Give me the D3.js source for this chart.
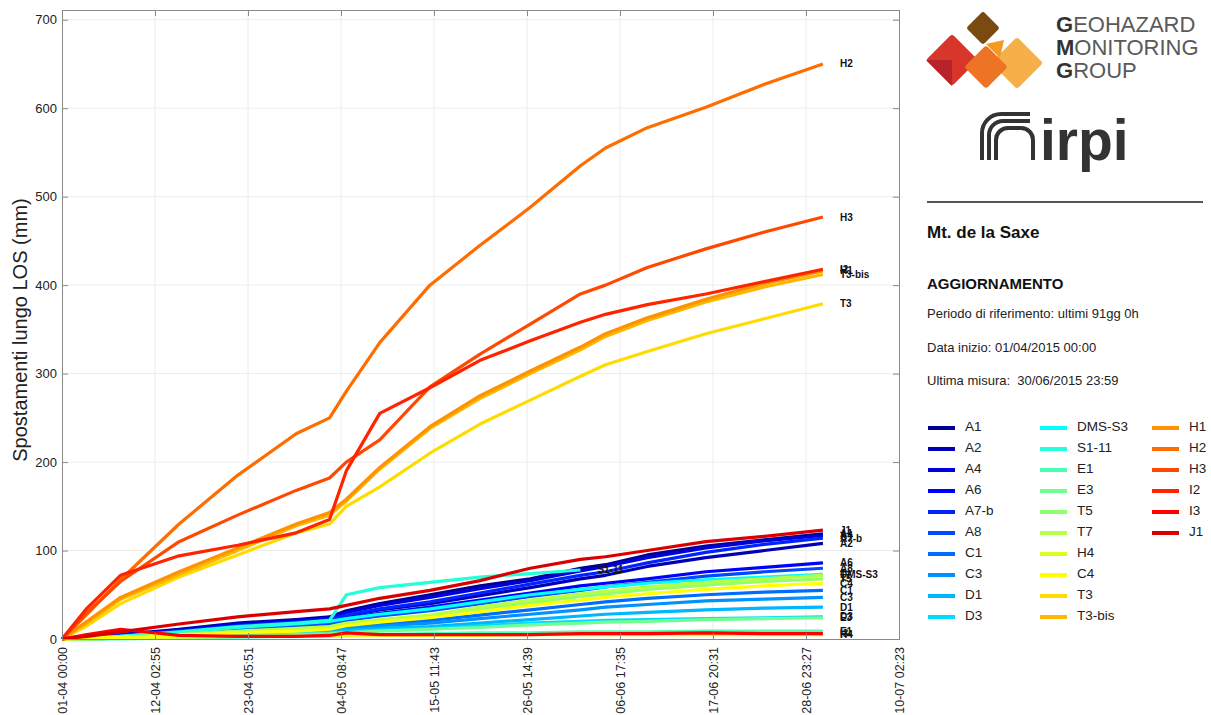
<!DOCTYPE html>
<html>
<head>
<meta charset="utf-8">
<script src="https://cdn.jsdelivr.net/npm/d3@7/dist/d3.min.js"></script>
<style>
  body { margin: 0; background: #fff; }
  text { font-family: Arial, "Liberation Sans", sans-serif; }
</style>
</head>
<body>
<div id="chart"></div>
<script>
// Mt. de la Saxe - spostamenti lungo LOS

// sample days (from 01-04 00:00)
const days = [0, 3, 7, 14, 21, 28, 32, 34, 38, 44, 50, 56, 62, 65, 70, 77, 84, 91];

// series values (mm)
const A1 = [0, 2, 5, 11, 18, 22, 25, 32, 40, 50, 60, 68, 80, 84, 95, 105, 112, 119];
const A2 = [0, 2, 4, 9, 15, 19, 22, 26, 33, 40, 49, 58, 68, 72, 82, 92, 100, 108];
const A4 = [0, 2, 5, 10, 17, 21, 24, 30, 38, 47, 57, 66, 77, 82, 92, 103, 111, 117];
const A6 = [0, 1, 3, 7, 12, 16, 19, 23, 29, 36, 44, 52, 60, 63, 68, 76, 81, 86];
const A7b = [0, 1, 4, 9, 15, 19, 22, 27, 34, 42, 52, 62, 72, 76, 86, 98, 107, 114];
const A8 = [0, 1, 3, 6, 11, 14, 17, 21, 26, 32, 40, 48, 55, 59, 64, 71, 76, 80];
const C1 = [0, 1, 2, 4, 7, 10, 12, 14, 17, 21, 27, 33, 39, 42, 46, 50, 53, 55];
const C3 = [0, 0, 1, 3, 5, 8, 10, 12, 15, 18, 23, 28, 33, 36, 39, 43, 45, 47];
const D1 = [0, 0, 1, 3, 5, 7, 8, 10, 12, 14, 18, 22, 26, 28, 30, 33, 35, 36];
const D3 = [0, 0, 1, 2, 4, 6, 7, 8, 10, 12, 15, 18, 20, 21, 22, 23, 24, 25];
const DMS_S3 = [0, 1, 3, 7, 13, 17, 20, 23, 28, 34, 42, 50, 56, 59, 63, 67, 70, 73];
const S1_11 = [0, 1, 3, 8, 14, 18, 21, 50, 58, 64, 70, 74, 78, null, null, null, null, null];
const E1 = [0, 0, 0, 1, 2, 3, 3, 4, 5, 6, 7, 7, 8, 8, 8, 9, 9, 9];
const E3 = [0, 0, 1, 2, 3, 5, 6, 7, 9, 11, 13, 16, 18, 19, 20, 22, 23, 24];
const T5 = [0, 1, 2, 4, 8, 11, 13, 16, 20, 25, 33, 41, 48, 51, 56, 61, 65, 68];
const T7 = [0, 1, 2, 5, 9, 12, 14, 18, 22, 27, 36, 44, 51, 54, 59, 64, 68, 72];
const H4 = [0, 0, 1, 2, 3, 3, 3, 4, 4, 4, 4, 5, 5, 5, 5, 5, 5, 5];
const C4 = [0, 1, 2, 4, 7, 9, 11, 15, 19, 24, 31, 38, 44, 47, 51, 56, 60, 63];
const T3 = [0, 15, 40, 70, 95, 120, 130, 150, 172, 210, 243, 270, 297, 310, 325, 345, 362, 379];
const T3bis = [0, 18, 45, 73, 100, 128, 140, 156, 192, 238, 272, 300, 327, 342, 360, 381, 398, 412];
const H1 = [0, 20, 47, 76, 103, 130, 143, 158, 194, 240, 275, 303, 330, 345, 363, 384, 402, 416];
const H2 = [0, 28, 67, 130, 185, 232, 250, 280, 335, 400, 445, 488, 535, 555, 578, 601, 627, 650];
const H3 = [0, 30, 65, 110, 140, 168, 182, 200, 225, 285, 322, 356, 390, 400, 420, 441, 460, 477];
const I2 = [0, 35, 72, 94, 106, 120, 135, 190, 255, 284, 315, 337, 358, 367, 378, 390, 404, 418];
const I3 = [0, 5, 11, 4, 3, 3, 4, 7, 5, 5, 5, 5, 6, 6, 6, 7, 6, 6];
const J1 = [0, 3, 8, 17, 25, 31, 34, 38, 46, 55, 66, 80, 90, 93, 100, 110, 116, 123];

const names = ["A1", "A2", "A4", "A6", "A7-b", "A8", "C1", "C3", "D1", "D3",
  "DMS-S3", "S1-11", "E1", "E3", "T5", "T7", "H4", "C4", "T3", "T3-bis",
  "H1", "H2", "H3", "I2", "I3", "J1"];
const values = [A1, A2, A4, A6, A7b, A8, C1, C3, D1, D3,
  DMS_S3, S1_11, E1, E3, T5, T7, H4, C4, T3, T3bis,
  H1, H2, H3, I2, I3, J1];

// jet(26) colormap
const jetColors = ["#000092", "#0000b6", "#0000db", "#0000ff", "#0024ff", "#0049ff", "#006dff", "#0092ff",
  "#00b6ff", "#00dbff", "#00ffff", "#24ffdb", "#49ffb6", "#6dff92", "#92ff6d", "#b6ff49",
  "#dbff24", "#ffff00", "#ffdb00", "#ffb600", "#ff9200", "#ff6d00", "#ff4900", "#ff2400",
  "#ff0000", "#db0000"];

// x ticks every 11d 02:55:52
const tickLabels = ["01-04 00:00", "12-04 02:55", "23-04 05:51", "04-05 08:47", "15-05 11:43",
  "26-05 14:39", "06-06 17:35", "17-06 20:31", "28-06 23:27", "10-07 02:23"];
const tickStep = 11 + (2 * 3600 + 55 * 60 + 52) / 86400;
const yTicks = [0, 100, 200, 300, 400, 500, 600, 700];

const infoLines = ["Periodo di riferimento: ultimi 91gg 0h", "Data inizio: 01/04/2015 00:00",
  "Ultima misura:  30/06/2015 23:59"];

const W = 1211, H = 715;
const margin = { top: 10, right: 312, bottom: 76, left: 62 },
  width = W - margin.left - margin.right,
  height = H - margin.top - margin.bottom;

const root = d3.select("#chart").append("svg")
  .attr("width", W).attr("height", H)
  .style("display", "block");
root.append("rect").attr("width", W).attr("height", H).attr("fill", "#fff");

const svg = root.append("g")
  .attr("transform", "translate(" + margin.left + "," + margin.top + ")");

const xScale = d3.scaleLinear().domain([0, tickStep * 9]).range([0, width]);
const yScale = d3.scaleLinear().domain([0, 711]).range([height, 0]);
const xTicks = tickLabels.map((d, i) => i * tickStep);

// grid
svg.append("g")
  .selectAll("line.vg")
  .data(xTicks.slice(1, -1))
  .enter().append("line")
  .attr("x1", d => xScale(d)).attr("x2", d => xScale(d))
  .attr("y1", 0).attr("y2", height)
  .attr("stroke", "#ececec");
svg.append("g")
  .selectAll("line.hg")
  .data(yTicks.slice(1))
  .enter().append("line")
  .attr("x1", 0).attr("x2", width)
  .attr("y1", d => yScale(d)).attr("y2", d => yScale(d))
  .attr("stroke", "#ececec");

// lines
const line = d3.line()
  .defined(d => d[1] != null)
  .x(d => xScale(d[0]))
  .y(d => yScale(d[1]));

const series = names.map((n, i) => ({
  name: n,
  color: jetColors[i],
  pts: days.map((d, j) => [d, values[i][j]])
}));

svg.append("g")
  .selectAll("path")
  .data(series)
  .enter().append("path")
  .attr("d", d => line(d.pts))
  .attr("fill", "none")
  .attr("stroke", d => d.color)
  .attr("stroke-width", 3.2)
  .attr("stroke-linejoin", "round");

// end labels
svg.append("g")
  .selectAll("text")
  .data(series)
  .enter().append("text")
  .attr("x", d => {
    const last = d.pts.filter(p => p[1] != null).pop();
    return xScale(last[0]) + 17;
  })
  .attr("y", d => yScale(d.pts.filter(p => p[1] != null).pop()[1]))
  .attr("dy", "0.35em")
  .attr("font-size", "10px")
  .attr("font-weight", "bold")
  .attr("fill", "#111")
  .text(d => d.name);

// axes (ticks inward, like matlab)
const axisCol = "#8a8a8a";
const gx = svg.append("g")
  .attr("transform", "translate(0," + height + ")")
  .call(d3.axisBottom(xScale).tickValues(xTicks).tickSize(-6).tickPadding(6)
    .tickFormat((d, i) => tickLabels[i]));
gx.selectAll("text")
  .attr("transform", "rotate(-90)")
  .attr("x", -8).attr("y", 0).attr("dy", "0.35em")
  .style("text-anchor", "end")
  .attr("font-size", "12.5px").attr("fill", "#222");

const gy = svg.append("g")
  .call(d3.axisLeft(yScale).tickValues(yTicks).tickSize(-6).tickPadding(5));
gy.selectAll("text").attr("font-size", "13px").attr("fill", "#222");

svg.append("g")
  .call(d3.axisTop(xScale).tickValues(xTicks).tickSize(-6).tickFormat(""));
svg.append("g")
  .attr("transform", "translate(" + width + ",0)")
  .call(d3.axisRight(yScale).tickValues(yTicks).tickSize(-6).tickFormat(""));

svg.selectAll(".domain, .tick line").attr("stroke", axisCol);

svg.append("text")
  .attr("transform", "rotate(-90)")
  .attr("x", -320)
  .attr("y", -35)
  .attr("text-anchor", "middle")
  .attr("font-size", "20px")
  .attr("fill", "#222")
  .text("Spostamenti lungo LOS (mm)");

// ---- right panel ----
const panel = root.append("g");

// geohazard logo
const diamond = (cx, cy, s, col) => panel.append("rect")
  .attr("x", -s / 2).attr("y", -s / 2).attr("width", s).attr("height", s)
  .attr("rx", 3)
  .attr("transform", "translate(" + cx + "," + cy + ") rotate(45)")
  .attr("fill", col);
diamond(983, 28, 24, "#7b4a12");
diamond(952, 60, 37, "#d8352b");
diamond(1017, 63, 37, "#f6b04a");
diamond(986, 67, 31, "#ec7424");
panel.append("path")
  .attr("d", "M926,60 L952,86 L952,60 Z")
  .attr("fill", "#b8222a");
panel.append("path")
  .attr("d", "M986,44 L1000,58 L1004,40 Z")
  .attr("fill", "#f39a22");

const logoText = [["G", "EOHAZARD"], ["M", "ONITORING"], ["G", "ROUP"]];
logoText.forEach((t, i) => {
  const tx = panel.append("text")
    .attr("x", 1056).attr("y", 32 + i * 23)
    .attr("font-size", "22px")
    .attr("fill", "#5a5a5a");
  tx.append("tspan").attr("font-weight", "bold").attr("fill", "#333").text(t[0]);
  tx.append("tspan").text(t[1]);
});

// irpi logo
const irpiMarks = [
  "M1030,114 H1001 A19,19 0 0 0 982,133 V160",
  "M1030,121 H1003 A14,14 0 0 0 989,135 V160",
  "M996,160 V140 A12,12 0 0 1 1008,128 H1021 A12,12 0 0 1 1033,140 V160"
];
irpiMarks.forEach(p => {
  panel.append("path")
    .attr("d", p)
    .attr("fill", "none")
    .attr("stroke", "#333")
    .attr("stroke-width", 4);
});
panel.append("text")
  .attr("x", 1040).attr("y", 160)
  .attr("font-size", "57px").attr("font-weight", "bold")
  .attr("fill", "#333")
  .text("irpi");

panel.append("line")
  .attr("x1", 927).attr("x2", 1203).attr("y1", 202).attr("y2", 202)
  .attr("stroke", "#555").attr("stroke-width", 2);

panel.append("text").attr("x", 927).attr("y", 238)
  .attr("font-size", "17px").attr("font-weight", "bold").attr("fill", "#111")
  .text("Mt. de la Saxe");
panel.append("text").attr("x", 927).attr("y", 289)
  .attr("font-size", "15px").attr("font-weight", "bold").attr("fill", "#111")
  .text("AGGIORNAMENTO");
infoLines.forEach((t, i) => {
  panel.append("text").attr("x", 927).attr("y", 318 + i * 33.5)
    .attr("font-size", "13px").attr("fill", "#222")
    .attr("xml:space", "preserve")
    .style("white-space", "pre")
    .text(t);
});

// legend, 10 rows per column
const legend = panel.append("g");
const colX = [928, 1040, 1152];
series.forEach((s, i) => {
  const c = Math.floor(i / 10), r = i % 10;
  const y = 428 + r * 21;
  legend.append("line")
    .attr("x1", colX[c]).attr("x2", colX[c] + 27)
    .attr("y1", y).attr("y2", y)
    .attr("stroke", s.color).attr("stroke-width", 4);
  legend.append("text")
    .attr("x", colX[c] + 37).attr("y", y)
    .attr("dy", "0.2em")
    .attr("font-size", "13.5px").attr("fill", "#222")
    .text(s.name);
});
</script>
</body>
</html>
